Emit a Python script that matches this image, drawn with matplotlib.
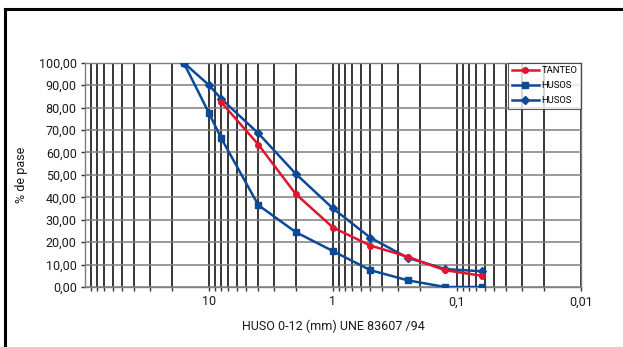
import matplotlib
matplotlib.use("Agg")
import matplotlib.pyplot as plt
from matplotlib.ticker import FixedLocator, FixedFormatter, LogLocator, NullFormatter
from matplotlib.lines import Line2D

plt.rcParams['font.family'] = ['Roboto', 'DejaVu Sans']

sieves = [16, 10, 8, 4, 2, 1, 0.5, 0.25, 0.125, 0.063]
tanteo_sieves = [8, 4, 2, 1, 0.5, 0.25, 0.125, 0.063]
tanteo = [82.5, 63.5, 41.5, 26.5, 18.5, 13.5, 7.5, 5.0]
huso_inf = [100, 77.5, 66.5, 36.5, 24.5, 16.0, 7.5, 3.0, 0.0, 0.0]
huso_sup = [100, 90.0, 84.0, 68.5, 50.5, 35.0, 22.0, 13.0, 8.0, 7.0]
yticks = [0, 10, 20, 30, 40, 50, 60, 70, 80, 90, 100]
xticks = [10, 1, 0.1, 0.01]
xticklabels = ["10", "1", "0,1", "0,01"]

W, H = 623, 347
fig = plt.figure(figsize=(W / 100, H / 100), dpi=100)
ax = fig.add_axes([85 / W, 1 - 287 / H, (581 - 85) / W, (287 - 62.7) / H])

red = '#e3142d'
blue = '#0b4a99'

ax.plot(tanteo_sieves, tanteo, color=red, lw=1.8, marker='o', ms=4, label='TANTEO', zorder=5)
ax.plot(sieves, huso_inf, color=blue, lw=1.8, marker='s', ms=5, label='HUSOS', zorder=4)
ax.plot(sieves, huso_sup, color=blue, lw=1.8, marker='D', ms=4, label='HUSOS', zorder=4)

ax.set_xscale('log')
ax.set_xlim(100, 0.01)
ax.set_ylim(0, 100)

ax.xaxis.set_major_locator(FixedLocator(xticks))
ax.xaxis.set_major_formatter(FixedFormatter(xticklabels))
ax.xaxis.set_minor_locator(LogLocator(base=10, subs=range(2, 10), numticks=20))
ax.xaxis.set_minor_formatter(NullFormatter())
ax.set_yticks(yticks)
ax.set_yticklabels([f"{v:.2f}".replace('.', ',') for v in yticks])

ax.grid(True, which='both', axis='x', color='black', lw=1.1, zorder=1)
ax.grid(True, which='major', axis='y', color='#7f7f7f', lw=1.1, zorder=1)
ax.set_axisbelow(True)

for s in ax.spines.values():
    s.set_color('#7f7f7f')
    s.set_linewidth(1.0)

ax.tick_params(axis='both', which='both', length=3, width=1, color='#333333',
               labelsize=9, pad=3, labelcolor='#1a1a1a')

ax.set_xlabel('HUSO 0-12 (mm) UNE 83607 /94', fontsize=9, color='#1a1a1a', labelpad=8)
ax.set_ylabel('% de pase', fontsize=9, color='#1a1a1a', labelpad=8)

leg = ax.legend(loc='upper right', fontsize=6.8, frameon=True, fancybox=False,
                borderaxespad=0, handlelength=2.8, borderpad=0.4, labelspacing=0.6,
                handletextpad=0.3)
leg.get_frame().set_edgecolor('#333333')
leg.get_frame().set_linewidth(0.8)

# outer frame (top and left edges visible)
fig.add_artist(Line2D([5 / W, 5 / W], [0, 1 - 9 / H], color='black', lw=2.2, transform=fig.transFigure))
fig.add_artist(Line2D([5 / W, 1], [1 - 9 / H, 1 - 9 / H], color='black', lw=2.2, transform=fig.transFigure))

fig.savefig('out.png', dpi=100, facecolor='white')
